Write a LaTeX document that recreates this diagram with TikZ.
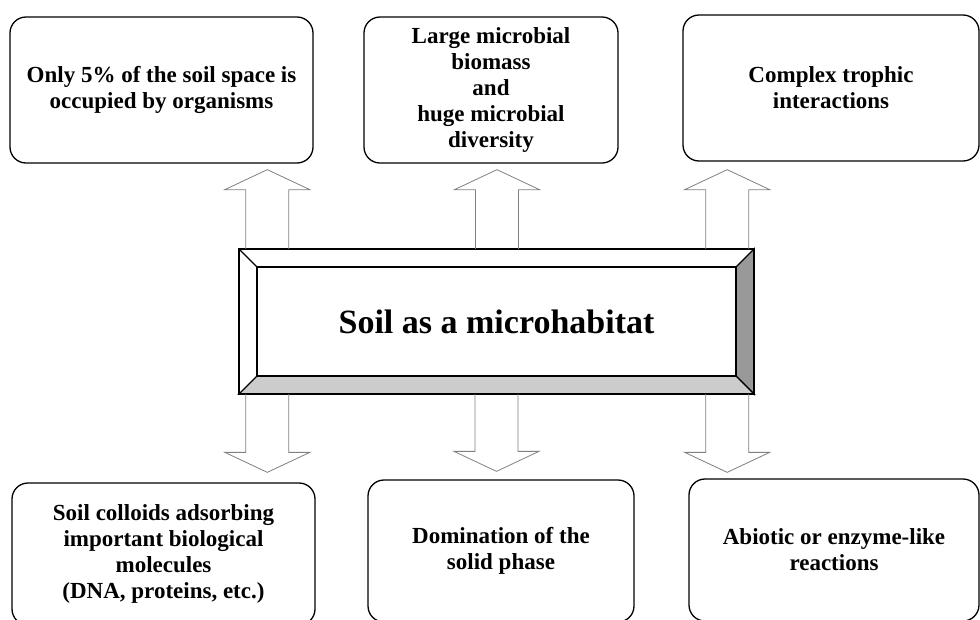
\documentclass[tikz,border=0pt]{standalone}
\usepackage{fontspec}
\setmainfont{Liberation Serif}
\usetikzlibrary{calc}
\tikzset{
  infobox/.style={draw, line width=1.3pt, rounded corners=16pt, align=center, inner sep=0pt, font=\bfseries\fontsize{23}{26}\selectfont},
  blockarr/.style={draw=gray, line width=0.8pt},
}
\newcommand{\blockarrow}[3]{%
  \draw[blockarr] let \p1=(#1), \p2=(#2) in
    ({\x1-21.5pt},\y1) -- ({\x1-21.5pt},{\y2-(#3)}) -- ({\x1-42.5pt},{\y2-(#3)}) -- (\x1,\y2)
    -- ({\x1+42.5pt},{\y2-(#3)}) -- ({\x1+21.5pt},{\y2-(#3)}) -- ({\x1+21.5pt},\y1);}

\begin{document}
\begin{tikzpicture}[x=1pt,y=-1pt]
    \useasboundingbox (0,0) rectangle (980,619);

    \node[infobox, minimum width=303, minimum height=146] (only) at (161.5,90) {Only 5\% of the soil space is\\occupied by organisms};
    \node[infobox, minimum width=254, minimum height=146] (big) at (491,90) {Large microbial\\biomass\\and\\huge microbial\\diversity};
    \node[infobox, minimum width=296, minimum height=146] (trophic) at (831,88) {Complex trophic\\interactions};

    \node[infobox, minimum width=303, minimum height=142] (colloid) at (163.5,554) {Soil colloids adsorbing\\important biological\\molecules\\(DNA, proteins, etc.)};
    \node[infobox, minimum width=266, minimum height=142] (solid) at (501,551) {Domination of the\\solid phase};
    \node[infobox, minimum width=290, minimum height=142] (abiotic) at (834,550) {Abiotic or enzyme-like\\reactions};

    \node[minimum width=515, minimum height=145, inner sep=0pt] (hab) at (496.5,321.5) {};
    \node[minimum width=479, minimum height=109, inner sep=0pt, font=\bfseries\fontsize{34}{40}\selectfont] (habin) at (hab) {Soil as a microhabitat};
    \filldraw[fill=black!40, line width=1.2pt] (hab.north east) -- (habin.north east) -- (habin.south east) -- (hab.south east) -- cycle;
    \filldraw[fill=black!20, line width=1.2pt] (hab.south west) -- (habin.south west) -- (habin.south east) -- (hab.south east) -- cycle;
    \draw[line width=1.2pt] (hab.north west) -- (habin.north west);
    \draw[line width=1.5pt] (habin.north west) rectangle (habin.south east);
    \draw[line width=1.5pt] (hab.north west) rectangle (hab.south east);

    \coordinate (a1) at ($(hab.north west)+(28.5,0)$);
    \coordinate (a2) at ($(hab.north)+(0.5,0)$);
    \coordinate (a3) at ($(hab.north east)+(-27,0)$);
    \coordinate (a4) at ($(hab.south west)+(28.5,0)$);
    \coordinate (a5) at (hab.south);
    \coordinate (a6) at ($(hab.south east)+(-27,0)$);
    \coordinate (t1) at ($(a1 |- only.south)+(0,6)$);
    \coordinate (t2) at ($(a2 |- big.south)+(0,6)$);
    \coordinate (t3) at ($(a3 |- trophic.south)+(0,8)$);
    \coordinate (t4) at ($(a4 |- colloid.north)+(0,-10)$);
    \coordinate (t5) at ($(a5 |- solid.north)+(0,-8)$);
    \coordinate (t6) at ($(a6 |- abiotic.north)+(0,-6)$);

    \blockarrow{a1}{t1}{20pt}
    \blockarrow{a2}{t2}{20pt}
    \blockarrow{a3}{t3}{20pt}
    \blockarrow{a4}{t4}{-20pt}
    \blockarrow{a5}{t5}{-20pt}
    \blockarrow{a6}{t6}{-20pt}
\end{tikzpicture}
\end{document}
